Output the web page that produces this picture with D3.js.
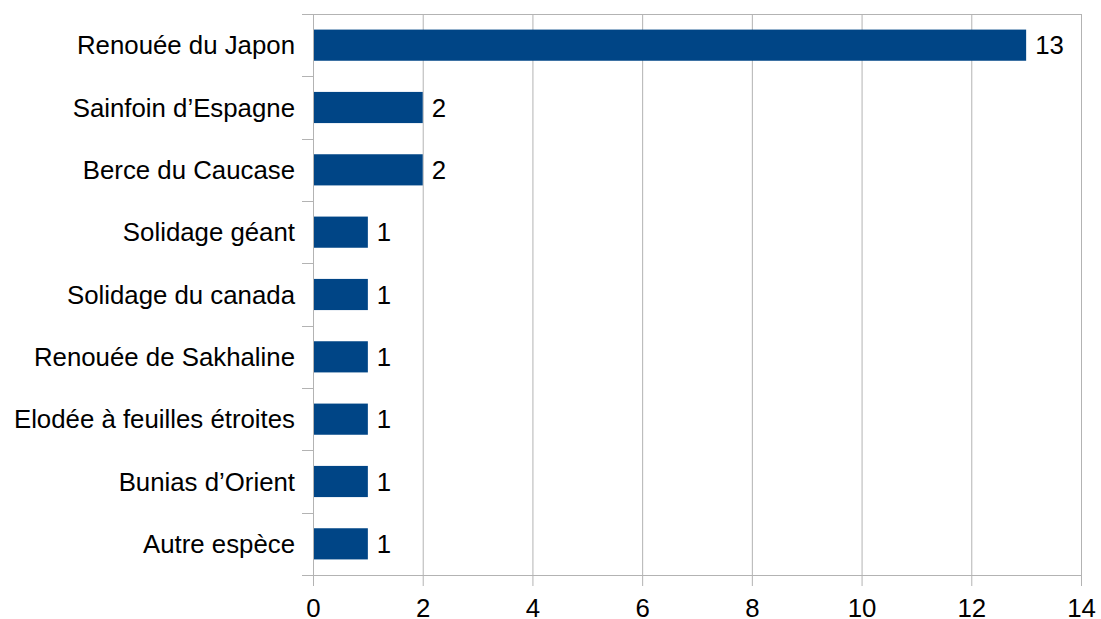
<!DOCTYPE html>
<html><head><meta charset="utf-8">
<script src="https://cdn.jsdelivr.net/npm/d3@7"></script>
<style>body{margin:0;background:#fff}svg{display:block}text{font-family:"Liberation Sans",Arial,sans-serif;fill:#000}</style>
</head><body><svg id="c" width="1101" height="619"></svg>
<script>
const categories = ["Renouée du Japon","Sainfoin d’Espagne","Berce du Caucase","Solidage géant","Solidage du canada","Renouée de Sakhaline","Elodée à feuilles étroites","Bunias d’Orient","Autre espèce"];
const values = [13,2,2,1,1,1,1,1,1];
const xTicks = [0,2,4,6,8,10,12,14];

const svg = d3.select("#c");
const L = 313, R = 1081, T = 14, B = 575;
const x = d3.scaleLinear().domain([0,14]).range([L,R]);
const y = d3.scaleBand().domain(categories).range([T,B]).paddingInner(0.5).paddingOuter(0.25);
const grid = "#b3b3b3";
const fs = 25.8;

svg.append("g").selectAll("line").data(xTicks).join("line")
  .attr("x1",d=>x(d)+0.5).attr("x2",d=>x(d)+0.5).attr("y1",T).attr("y2",B+11)
  .attr("stroke",grid).attr("stroke-width",1);
svg.append("line").attr("x1",L-11).attr("x2",R+1).attr("y1",T+0.5).attr("y2",T+0.5).attr("stroke",grid);
svg.append("line").attr("x1",L-11).attr("x2",R+1).attr("y1",B+0.5).attr("y2",B+0.5).attr("stroke",grid);
const step = y.step();
const bounds = d3.range(categories.length+1).map(i=>T+i*step);
svg.append("g").selectAll("line").data(bounds).join("line")
  .attr("x1",L-11).attr("x2",L).attr("y1",d=>Math.round(d)+0.5).attr("y2",d=>Math.round(d)+0.5)
  .attr("stroke",grid);

svg.append("g").selectAll("rect").data(categories).join("rect")
  .attr("x",x(0)+1).attr("y",d=>y(d)).attr("height",y.bandwidth())
  .attr("width",(d,i)=>x(values[i])-x(0)-1).attr("fill","#004586");

svg.append("g").selectAll("text").data(categories).join("text")
  .attr("x",(d,i)=>x(values[i])+9).attr("y",d=>y(d)+y.bandwidth()/2)
  .attr("dy","0.35em").attr("font-size",fs).text((d,i)=>values[i]);

svg.append("g").selectAll("text").data(categories).join("text")
  .attr("x",L-18).attr("y",d=>y(d)+y.bandwidth()/2).attr("dy","0.35em")
  .attr("text-anchor","end").attr("font-size",fs).text(d=>d);

svg.append("g").selectAll("text").data(xTicks).join("text")
  .attr("x",d=>x(d)+0.5).attr("y",617).attr("text-anchor","middle")
  .attr("font-size",fs).text(d=>d);
</script></body></html>
